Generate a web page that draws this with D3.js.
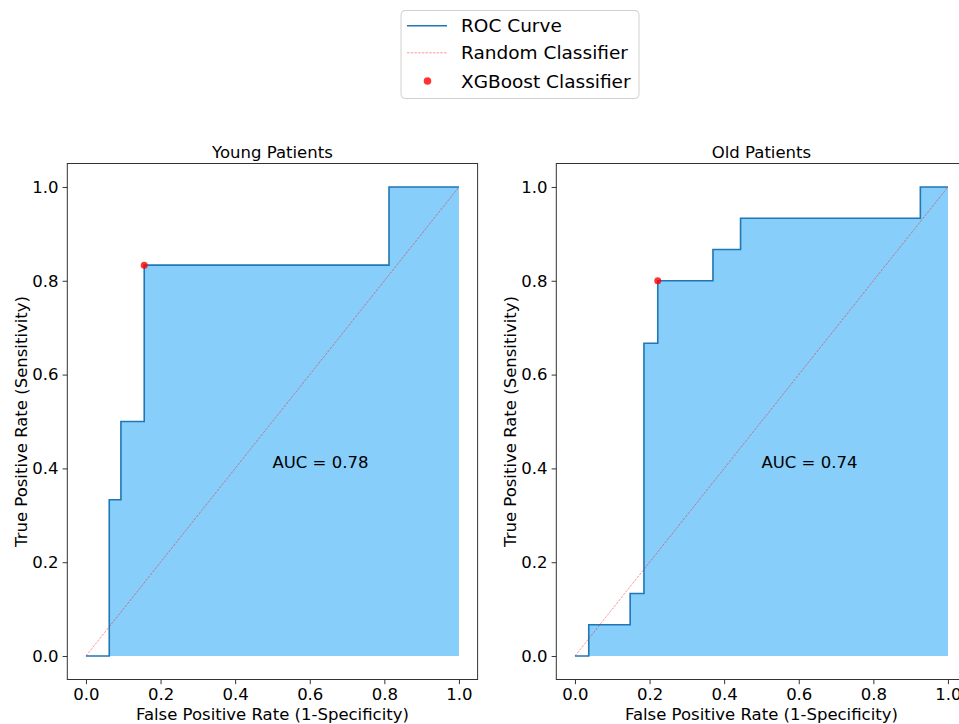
<!DOCTYPE html>
<html>
<head>
<meta charset="utf-8">
<script src="https://cdn.jsdelivr.net/npm/d3@7"></script>
<style>
  html, body { margin: 0; padding: 0; background: #fff; }
  svg { display: block; font-family: "DejaVu Sans", sans-serif; }
</style>
</head>
<body>
<svg id="chart" width="959" height="724"></svg>
<script>
// ---- data ----
const panelTitles = ["Young Patients", "Old Patients"];
const youngFpr = [0, 0.0625, 0.09375, 0.15625, 0.8125, 1];
const youngTpr = [0, 0.3333, 0.5, 0.8333, 1, 1];
const oldFpr = [0, 0.037, 0.148, 0.185, 0.222, 0.370, 0.444, 0.926, 1];
const oldTpr = [0, 0.0667, 0.1333, 0.6667, 0.8, 0.8667, 0.9333, 1, 1];
const xgbYoung = [0.15625, 0.8333];
const xgbOld = [0.222, 0.8];
const aucLabels = ["AUC = 0.78", "AUC = 0.74"];
const tickValues = [0, 0.2, 0.4, 0.6, 0.8, 1.0];
const legendLabels = ["ROC Curve", "Random Classifier", "XGBoost Classifier"];

const panels = [
  { title: panelTitles[0], fpr: youngFpr, tpr: youngTpr, pt: xgbYoung, auc: aucLabels[0], left: 67.3 },
  { title: panelTitles[1], fpr: oldFpr, tpr: oldTpr, pt: xgbOld, auc: aucLabels[1], left: 556.3 }
];

const svg = d3.select("#chart");
const axW = 410.3, axTop = 163.5, axH = 516;
const lineColor = "#1f77b4", fillColor = "#87cefa";
const fs = 16.5;

panels.forEach(p => {
  const x = d3.scaleLinear().domain([-0.05, 1.05]).range([p.left, p.left + axW]);
  const y = d3.scaleLinear().domain([-0.05, 1.05]).range([axTop + axH, axTop]);
  const g = svg.append("g");
  const data = p.fpr.map((f, i) => ({ f, t: p.tpr[i] }));

  const area = d3.area().x(d => x(d.f)).y0(y(0)).y1(d => y(d.t)).curve(d3.curveStepAfter);
  g.append("path").datum(data).attr("d", area).attr("fill", fillColor);

  const line = d3.line().x(d => x(d.f)).y(d => y(d.t)).curve(d3.curveStepAfter);
  g.append("path").datum(data).attr("d", line).attr("fill", "none")
    .attr("stroke", lineColor).attr("stroke-width", 1.6);

  g.append("line").attr("x1", x(0)).attr("y1", y(0)).attr("x2", x(1)).attr("y2", y(1))
    .attr("stroke", "red").attr("stroke-opacity", 0.7).attr("stroke-width", 0.6)
    .attr("stroke-dasharray", "2.5,1.2");

  g.append("circle").attr("cx", x(p.pt[0])).attr("cy", y(p.pt[1])).attr("r", 3.5)
    .attr("fill", "red").attr("fill-opacity", 0.8);

  g.append("text").attr("x", x(0.5)).attr("y", y(0.4)).attr("font-size", fs)
    .attr("fill", "#000").text(p.auc);

  // frame
  g.append("rect").attr("x", p.left).attr("y", axTop).attr("width", axW).attr("height", axH)
    .attr("fill", "none").attr("stroke", "#333").attr("stroke-width", 1);

  const xAxis = d3.axisBottom(x).tickValues(tickValues).tickFormat(d3.format(".1f")).tickSize(4.7).tickPadding(4);
  const yAxis = d3.axisLeft(y).tickValues(tickValues).tickFormat(d3.format(".1f")).tickSize(4.7).tickPadding(4);
  const xa = g.append("g").attr("transform", `translate(0,${axTop + axH})`).call(xAxis);
  const ya = g.append("g").attr("transform", `translate(${p.left},0)`).call(yAxis);
  [xa, ya].forEach(a => {
    a.select(".domain").remove();
    a.selectAll("text").attr("font-size", fs).attr("font-family", "DejaVu Sans").attr("fill", "#000");
    a.selectAll("line").attr("stroke", "#333");
  });

  g.append("text").attr("x", p.left + axW / 2).attr("y", axTop - 6).attr("text-anchor", "middle")
    .attr("font-size", fs).attr("fill", "#000").text(p.title);
  g.append("text").attr("x", p.left + axW / 2).attr("y", 720).attr("text-anchor", "middle")
    .attr("font-size", fs).attr("fill", "#000").text("False Positive Rate (1-Specificity)");
  g.append("text").attr("transform", `translate(${p.left - 40.5},${axTop + axH / 2}) rotate(-90)`)
    .attr("text-anchor", "middle").attr("font-size", fs).attr("fill", "#000")
    .text("True Positive Rate (Sensitivity)");
});

// legend
const lg = svg.append("g");
lg.append("rect").attr("x", 401).attr("y", 10.5).attr("width", 238).attr("height", 88)
  .attr("rx", 4).attr("fill", "#fff").attr("fill-opacity", 0.8)
  .attr("stroke", "#d0d0d0").attr("stroke-width", 1);
const rows = [25.7, 52.8, 81];
legendLabels.forEach((lab, i) => {
  const cy = rows[i];
  if (i === 0) {
    lg.append("line").attr("x1", 407).attr("x2", 447).attr("y1", cy).attr("y2", cy)
      .attr("stroke", lineColor).attr("stroke-width", 1.6);
  } else if (i === 1) {
    lg.append("line").attr("x1", 407).attr("x2", 447).attr("y1", cy).attr("y2", cy)
      .attr("stroke", "red").attr("stroke-opacity", 0.7).attr("stroke-width", 0.6)
      .attr("stroke-dasharray", "2.5,1.2");
  } else {
    lg.append("circle").attr("cx", 427.5).attr("cy", cy).attr("r", 3.8)
      .attr("fill", "red").attr("fill-opacity", 0.8);
  }
  lg.append("text").attr("x", 461).attr("y", cy + 6.6).attr("font-size", 18.5)
    .attr("fill", "#000").text(lab);
});
</script>
</body>
</html>
